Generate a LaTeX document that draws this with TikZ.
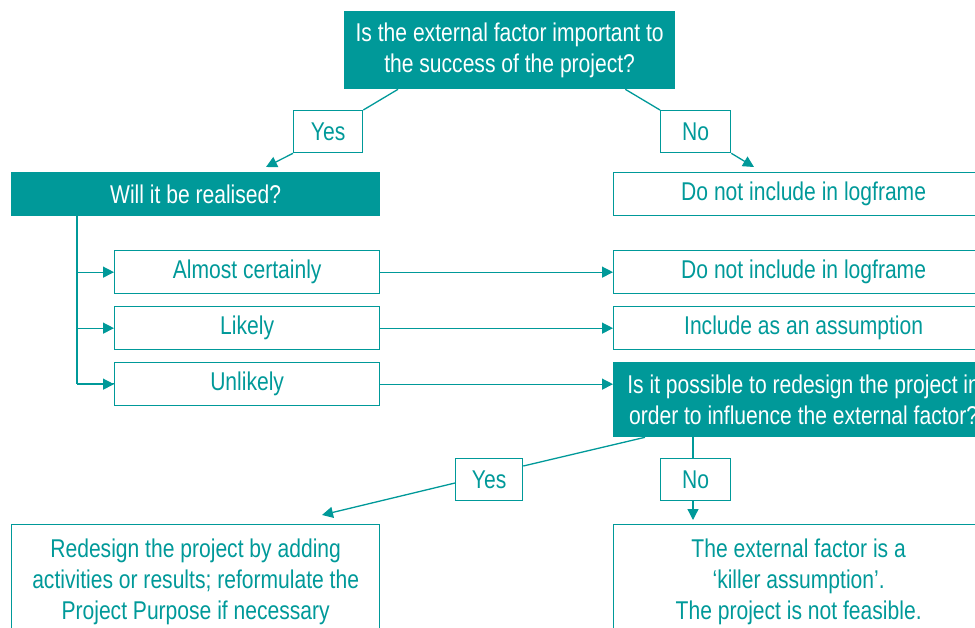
\documentclass[tikz,border=0pt]{standalone}
\usepackage{fontspec}
\setmainfont{Liberation Sans}[FakeStretch=0.82]
\usetikzlibrary{arrows.meta,calc}
\definecolor{tealc}{HTML}{009999}
\begin{document}
\begin{tikzpicture}[x=1pt,y=-1pt,
  box/.style={draw=tealc, line width=1.3pt, text=tealc, inner sep=0pt, align=center,
    anchor=north west, font=\fontsize{25.7}{31}\selectfont},
  filledbox/.style={box, fill=tealc, text=white},
  conn/.style={draw=tealc, line width=1.3pt},
  arr/.style={conn, -{Triangle[length=11pt,width=11pt]}}]
\useasboundingbox (0,0) rectangle (975,627);
\clip (0,0) rectangle (975,627);

% main nodes
\node[filledbox, minimum width=330pt, minimum height=77pt] (top) at (344,11)
  {Is the external factor important to\\the success of the project?};
\node[box, minimum width=69pt, minimum height=42pt] (yesA) at (293,110) {Yes};
\node[box, minimum width=70pt, minimum height=42pt] (noA) at (660,110) {No};
\node[filledbox, minimum width=368pt, minimum height=43pt] (will) at (11,172) {Will it be realised?};
\node[box, minimum width=380pt, minimum height=43pt] (dni1) at (613,172) {Do not include in logframe};

\node[box, minimum width=265pt, minimum height=43pt] (almost) at (114,250) {Almost certainly};
\node[box, minimum width=265pt, minimum height=43pt] (likely) at (114,306) {Likely};
\node[box, minimum width=265pt, minimum height=43pt] (unlikely) at (114,362) {Unlikely};

\node[box, minimum width=380pt, minimum height=43pt] (dni2) at (613,250) {Do not include in logframe};
\node[box, minimum width=380pt, minimum height=43pt] (assume) at (613,306) {Include as an assumption};
\node[filledbox, minimum width=380pt, minimum height=74pt] (redesignq) at (613,362)
  {Is it possible to redesign the project in\\order to influence the external factor?};

\node[box, minimum width=67pt, minimum height=42pt] (yesB) at (455,458) {Yes};
\node[box, minimum width=70pt, minimum height=42pt] (noB) at (660,458) {No};

\node[box, minimum width=368pt, minimum height=115pt] (redesign) at (11,524)
  {Redesign the project by adding\\activities or results; reformulate the\\Project Purpose if necessary};
\node[box, minimum width=370pt, minimum height=115pt] (killer) at (613,524)
  {The external factor is a\\`killer assumption'.\\The project is not feasible.};

% connector coordinates
\coordinate (topL) at ($(top.south west)+(54,0)$);
\coordinate (topR) at ($(top.south east)+(-50,0)$);
\coordinate (willIn) at (266,167);
\coordinate (dniIn) at (754,167);
\coordinate (willDown) at ($(will.south west)+(66,0)$);
\coordinate (rqL) at ($(redesignq.south west)+(32,0)$);
\coordinate (rqN) at ($(redesignq.south west)+(80,0)$);
\coordinate (yesBR) at ($(yesB.north east)+(0,8)$);
\coordinate (yesBL) at ($(yesB.north west)+(0,25)$);
\coordinate (redIn) at (322,515);
\coordinate (killIn) at ($(killer.north west)+(80,-4)$);

\draw[conn] (topL) -- (yesA.north east);
\draw[arr] (yesA.south west) -- (willIn);
\draw[conn] (topR) -- (noA.north west);
\draw[arr] (noA.south east) -- (dniIn);

\draw[conn] (willDown) |- ($(unlikely.west)+(0,-1)$);
\draw[arr] (willDown |- almost.west) -- (almost.west);
\draw[arr] (willDown |- likely.west) -- (likely.west);
\draw[arr] (willDown |- unlikely.west) -- (unlikely.west);

\draw[arr] (almost.east) -- (dni2.west);
\draw[arr] (likely.east) -- (assume.west);
\draw[arr] (unlikely.east) -- (redesignq.west |- unlikely.east);

\draw[conn] (rqL) -- (yesBR);
\draw[arr] (yesBL) -- (redIn);
\draw[conn] (rqN) -- (noB.north -| rqN);
\draw[arr] (noB.south -| rqN) -- (killIn);
\end{tikzpicture}
\end{document}
